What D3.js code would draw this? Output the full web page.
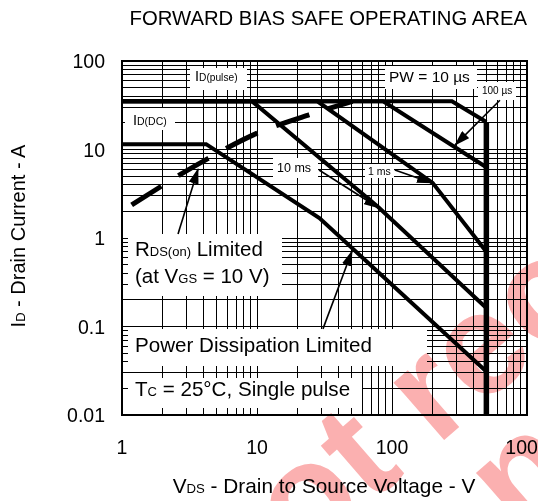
<!DOCTYPE html>
<html>
<head>
<meta charset="utf-8">
<script src="https://cdn.jsdelivr.net/npm/d3@7"></script>
<style>
  html, body { margin: 0; padding: 0; background: #fff; }
  svg { display: block; font-family: "Liberation Sans", Arial, sans-serif; }
</style>
</head>
<body>
<div id="chart"></div>
<script>
// axis ticks
var xTicks = [1, 10, 100, 1000];
var xTickLabels = ['1', '10', '100', '1000'];
var yTicks = [0.01, 0.1, 1, 10, 100];
var yTickLabels = ['0.01', '0.1', '1', '10', '100'];

// SOA boundaries, [VDS (V), ID (A)]
var pw10us   = [[1, 35], [278, 35], [500, 20.5]];
var pw100us  = [[1, 35], [86, 35], [500, 6.3]];
var pw1ms    = [[1, 35], [28, 35], [200, 4.2], [500, 0.7]];
var pw10ms   = [[1, 35], [9.2, 35], [79, 2.24], [500, 0.162]];
var dcLimit  = [[1, 11.5], [4.2, 11.5], [29, 1.68], [500, 0.031]];
var vdssLine = [[500, 20.5], [500, 0.01]];
var rdsLimit = [[1.18, 2.36], [4.36, 7.95], [9.95, 15.2], [24, 24.5], [51, 35]];

// annotation arrows: [from, to] in [V, A]
var arrows = [
  [[630, 36], [293, 11.2]],     // 100 us
  [[105, 5.86], [198, 4.18]],   // 1 ms
  [[28.8, 5.86], [80, 2.18]],   // 10 ms
  [[2.6, 1.11], [3.66, 6.03]],  // RDS(on) limited
  [[30.8, 0.094], [50.6, 0.713]] // power dissipation limited
];

var W = 538, H = 501;
var svg = d3.select('#chart').append('svg').attr('width', W).attr('height', H);
svg.append('rect').attr('width', W).attr('height', H).attr('fill', '#fff');

var x = d3.scaleLog().domain([1, 1000]).range([122, 527]);
var y = d3.scaleLog().domain([0.01, 100]).range([415, 61]);

// grid: decades + 2..9 minors
var xGrid = [], yGrid = [];
xTicks.forEach(function(d, i) {
  if (i === xTicks.length - 1) return;
  for (var k = 2; k <= 9; k++) xGrid.push(d * k);
});
yTicks.forEach(function(d, i) {
  if (i === yTicks.length - 1) return;
  for (var k = 2; k <= 9; k++) yGrid.push(d * k);
});
xGrid = xGrid.concat(xTicks);
yGrid = yGrid.concat(yTicks);

var grid = svg.append('g').attr('shape-rendering', 'crispEdges').attr('stroke', '#000').attr('stroke-width', 1);
grid.selectAll('line.gx').data(xGrid).join('line').attr('class', 'gx')
  .attr('x1', function(d) { return x(d); }).attr('x2', function(d) { return x(d); })
  .attr('y1', y(100)).attr('y2', y(0.01));
grid.selectAll('line.gy').data(yGrid).join('line').attr('class', 'gy')
  .attr('y1', function(d) { return y(d); }).attr('y2', function(d) { return y(d); })
  .attr('x1', x(1)).attr('x2', x(1000));

// white label boxes sit on top of the grid
var boxes = [
  [190, 68, 247, 90], [125, 108, 175, 130], [385, 66, 477, 89], [478, 82, 516, 100],
  [273, 158, 318, 178], [365, 164, 394, 178], [128, 234, 282, 296],
  [128, 329, 427, 366], [128, 378, 362, 408]
];
svg.append('g').selectAll('rect').data(boxes).join('rect')
  .attr('x', function(b) { return b[0]; }).attr('y', function(b) { return b[1]; })
  .attr('width', function(b) { return b[2] - b[0]; }).attr('height', function(b) { return b[3] - b[1]; })
  .attr('fill', '#fff');

var line = d3.line().x(function(d) { return x(d[0]); }).y(function(d) { return y(d[1]); });
var curves = svg.append('g').attr('fill', 'none').attr('stroke', '#000').attr('stroke-linejoin', 'miter');
[pw10us, pw100us, pw1ms, pw10ms, dcLimit].forEach(function(c) {
  curves.append('path').attr('d', line(c)).attr('stroke-width', 4);
});
curves.append('path').attr('d', line(vdssLine)).attr('stroke-width', 5.5);
curves.append('path').attr('d', line.curve(d3.curveMonotoneX)(rdsLimit))
  .attr('stroke-width', 5).attr('stroke-dasharray', '35,20');
line.curve(d3.curveLinear);

// arrows
svg.append('defs').append('marker').attr('id', 'ah')
  .attr('markerUnits', 'userSpaceOnUse').attr('markerWidth', 16).attr('markerHeight', 10)
  .attr('refX', 15).attr('refY', 5).attr('orient', 'auto')
  .append('path').attr('d', 'M0,0 L16,5 L0,10 Z').attr('fill', '#000');
svg.append('g').selectAll('line').data(arrows).join('line')
  .attr('x1', function(a) { return x(a[0][0]); }).attr('y1', function(a) { return y(a[0][1]); })
  .attr('x2', function(a) { return x(a[1][0]); }).attr('y2', function(a) { return y(a[1][1]); })
  .attr('stroke', '#000').attr('stroke-width', 1.6).attr('marker-end', 'url(#ah)');

// text with smaller subscript-style parts
function label(px, py, parts, anchor, rotate) {
  var t = svg.append('text').attr('fill', '#000').attr('text-anchor', anchor || 'start');
  if (rotate) t.attr('transform', 'translate(' + px + ',' + py + ') rotate(' + rotate + ')');
  else t.attr('x', px).attr('y', py);
  parts.forEach(function(p) {
    t.append('tspan').attr('font-size', p[1]).text(p[0]);
  });
  return t;
}

label(195, 81, [['I', 14.5], ['D(pulse)', 10.2]]);
label(133, 125, [['I', 14.5], ['D(DC)', 10.5]]);
label(389, 82, [['PW = 10 \u00b5s', 15.5]]);
label(482, 93.5, [['100 \u00b5s', 10]]);
label(277, 172, [['10 ms', 12.5]]);
label(368, 175, [['1 ms', 10.5]]);
label(135, 256, [['R', 20.5], ['DS(on)', 13], [' Limited', 20.5]]);
label(135, 283, [['(at V', 20.5], ['GS', 13], [' = 10 V)', 20.5]]);
label(135, 352, [['Power Dissipation Limited', 20.6]]);
label(135, 396, [['T', 20.6], ['C', 13], [' = 25\u00b0C, Single pulse', 20.6]]);

// frame
svg.append('rect').attr('x', x(1)).attr('y', y(100))
  .attr('width', x(1000) - x(1)).attr('height', y(0.01) - y(100))
  .attr('fill', 'none').attr('stroke', '#000').attr('stroke-width', 2);

// tick labels
svg.append('g').selectAll('text').data(xTicks).join('text')
  .attr('x', function(d) { return x(d); }).attr('y', 454)
  .attr('text-anchor', 'middle').attr('font-size', 19.5)
  .text(function(d, i) { return xTickLabels[i]; });
svg.append('g').selectAll('text').data(yTicks).join('text')
  .attr('x', 105).attr('y', function(d) { return y(d); }).attr('dy', '0.36em')
  .attr('text-anchor', 'end').attr('font-size', 19.5)
  .text(function(d, i) { return yTickLabels[i]; });

// titles
label(527, 25, [['FORWARD BIAS SAFE OPERATING AREA', 20.3]], 'end');
label(324, 493, [['V', 20.8], ['DS', 13.2], [' - Drain to Source Voltage - V', 20.8]], 'middle');
label(25, 236, [['I', 20], ['D', 13], [' - Drain Current - A', 20]], 'middle', -90);

// watermark, blended so black lines stay black
var wm = svg.append('g').attr('font-size', 145).attr('font-weight', 'bold')
  .attr('fill', '#fbb0b0').style('mix-blend-mode', 'multiply');
wm.append('text').attr('transform', 'translate(236,621) rotate(-41)').text('not recommended');
wm.append('text').attr('transform', 'translate(519,537) rotate(-41)').text('not recommended');
</script>
</body>
</html>
